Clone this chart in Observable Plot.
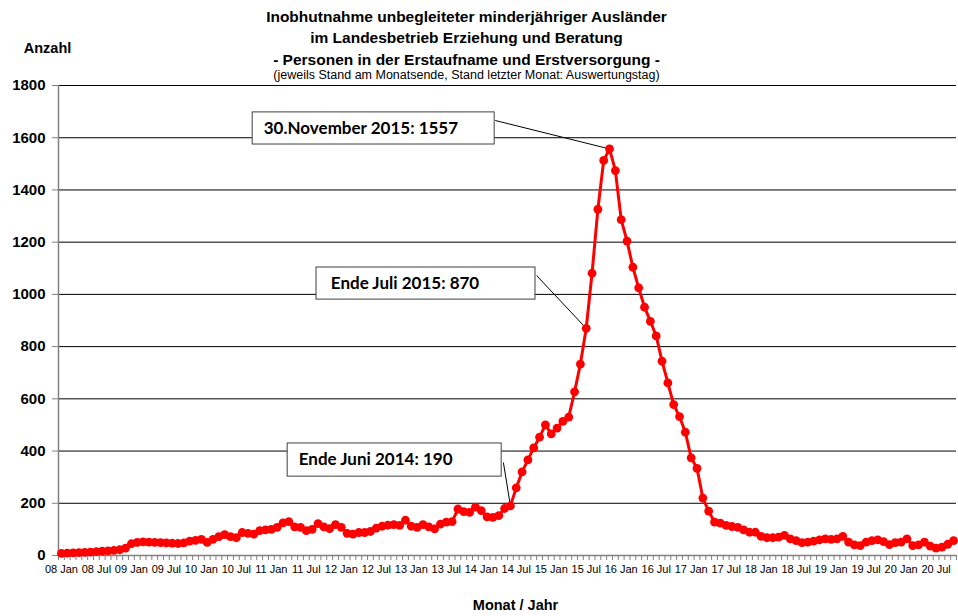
<!DOCTYPE html>
<html><head><meta charset="utf-8">
<script src="https://cdn.jsdelivr.net/npm/d3@7"></script>
<script src="https://cdn.jsdelivr.net/npm/@observablehq/plot@0.6"></script>
<style>body{margin:0;background:#fff} svg{display:block}</style>
</head><body><div id="chart"></div>
<script>
// Monatswerte Jan 2008 – Okt 2020 (Personen, jeweils Stand Monatsende)
const startYear = 2008;
const anzahl = [
  8, 9, 10, 11, 12, 13, 15, 17, 18, 20, 22, 28,            // 2008
  45, 50, 52, 51, 50, 49, 48, 47, 46, 48, 55, 58,          // 2009
  62, 50, 62, 72, 80, 72, 68, 88, 85, 82, 95, 98,          // 2010
  100, 108, 125, 130, 110, 108, 95, 100, 122, 110, 103, 118, // 2011
  108, 85, 82, 88, 88, 92, 105, 112, 116, 118, 115, 135,   // 2012
  112, 108, 118, 110, 102, 120, 128, 130, 178, 168, 165, 185, // 2013
  172, 148, 146, 153, 180, 190, 259, 320, 366, 412, 453, 500, // 2014
  466, 488, 514, 530, 627, 733, 870, 1081, 1326, 1513, 1557, 1474, // 2015
  1286, 1204, 1104, 1025, 951, 897, 841, 744, 661, 578, 532, 472, // 2016
  374, 334, 220, 170, 128, 124, 115, 111, 108, 98, 89, 89, // 2017
  73, 68, 68, 70, 77, 64, 57, 49, 51, 55, 60, 64,          // 2018
  62, 64, 73, 51, 41, 38, 51, 57, 60, 53, 42, 49,          // 2019
  51, 64, 38, 41, 51, 36, 28, 32, 43, 57                   // 2020
];
const tickLabels = [
  "08 Jan","08 Jul","09 Jan","09 Jul","10 Jan","10 Jul","11 Jan","11 Jul",
  "12 Jan","12 Jul","13 Jan","13 Jul","14 Jan","14 Jul","15 Jan","15 Jul",
  "16 Jan","16 Jul","17 Jan","17 Jul","18 Jan","18 Jul","19 Jan","19 Jul",
  "20 Jan","20 Jul"
];
const yTicks = [0, 200, 400, 600, 800, 1000, 1200, 1400, 1600, 1800];
const titleLines = [
  "Inobhutnahme unbegleiteter minderjähriger Ausländer",
  "im Landesbetrieb Erziehung und Beratung",
  "- Personen in der Erstaufname und Erstversorgung -"
];
const subtitle = "(jeweils Stand am Monatsende, Stand letzter Monat: Auswertungstag)";
const yLabel = "Anzahl";
const xLabel = "Monat / Jahr";
const annotationLabels = ["30.November 2015: 1557", "Ende Juli 2015: 870", "Ende Juni 2014: 190"];
const annotationMonths = [94, 90, 77];

// ---- build ----
const nMonths = anzahl.length;
const data = anzahl.map((v, i) => ({m: i + 0.5, v}));
const pt = k => data[annotationMonths[k]];

// annotation layout (in scale units)
const layout = [
  {bx1: 33.3, bx2: 74.8, by1: 1697, by2: 1574, tx: 35.2, ty: 1635, lx: 74.9, ly: 1666},
  {bx1: 44.25, bx2: 81.8, by1: 1103, by2: 980, tx: 46.7, ty: 1042, lx: 82.0, ly: 1072},
  {bx1: 39.3, bx2: 76.0, by1: 429, by2: 302, tx: 41.2, ty: 368, lx: 76.3, ly: 356}
];
const ann = layout.map((l, k) => ({...l, label: annotationLabels[k], px: pt(k).m, pv: pt(k).v}));

const FONT = "'Liberation Sans', Arial, sans-serif";
const label = (txt, dx, dy, opts) => Plot.text([txt], {frameAnchor: "top-left", dx, dy, text: d => d, textAnchor: "middle", lineAnchor: "middle", ...opts});

const chart = Plot.plot({
  width: 958, height: 616,
  marginLeft: 58, marginRight: 2, marginTop: 85, marginBottom: 61,
  x: {domain: [0, nMonths], axis: null},
  y: {domain: [0, 1800], axis: null},
  style: {fontFamily: FONT, background: "white", color: "black", overflow: "visible"},
  marks: [
    Plot.gridY(yTicks, {stroke: "#000", strokeOpacity: 1, strokeWidth: 1}),
    Plot.ruleX([0], {stroke: "#808080", strokeWidth: 1.5}),
    Plot.ruleY([0], {stroke: "#808080", strokeWidth: 1.5}),
    Plot.axisY(yTicks, {tickSize: 6, tickPadding: 7, stroke: "#808080", fontSize: 15, fontWeight: "bold", tickFormat: d => String(d)}),
    Plot.axisX(d3.range(0, nMonths + 1), {tickSize: 5, stroke: "#808080", tickFormat: () => ""}),
    Plot.axisX(tickLabels.map((_, k) => k * 6 + 0.5), {tickSize: 0, tickPadding: 10, fontSize: 11, tickFormat: d => tickLabels[Math.round((d - 0.5) / 6)]}),
    // annotations
    Plot.link(ann, {x1: "lx", y1: "ly", x2: "px", y2: "pv", stroke: "black", strokeWidth: 1}),
    Plot.rect(ann, {x1: "bx1", x2: "bx2", y1: "by2", y2: "by1", fill: "white", stroke: "#404040", strokeWidth: 1}),
    Plot.text(ann, {x: "tx", y: "ty", text: "label", textAnchor: "start", fontSize: 17, fontWeight: "bold", fontFamily: "Lato, 'Open Sans', sans-serif"}),
    // data
    Plot.line(data, {x: "m", y: "v", stroke: "#ff0000", strokeWidth: 3}),
    Plot.dot(data, {x: "m", y: "v", r: 4.4, fill: "#ff0000", stroke: "none"}),
    // titles
    label(titleLines[0], 408, -68, {fontSize: 15.5, fontWeight: "bold"}),
    label(titleLines[1], 408, -47, {fontSize: 15.5, fontWeight: "bold"}),
    label(titleLines[2], 408, -25, {fontSize: 15.5, fontWeight: "bold"}),
    label(subtitle, 408, -11, {fontSize: 12.5}),
    label(yLabel, -11, -37, {fontSize: 14.5, fontWeight: "bold"}),
    label(xLabel, 457, 520, {fontSize: 14.5, fontWeight: "bold"})
  ]
});
document.getElementById("chart").appendChild(chart);
</script>
</body></html>
